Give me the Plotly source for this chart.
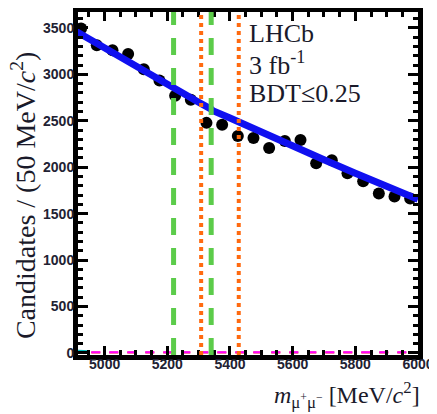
import plotly.graph_objects as go

# Data points (bin centres, 50 MeV bins)
mass_bins = [4925, 4975, 5025, 5075, 5125, 5175, 5225, 5275, 5325, 5375, 5425,
             5475, 5525, 5575, 5625, 5675, 5725, 5775, 5825, 5875, 5925, 5975]
candidates = [3495, 3315, 3260, 3220, 3055, 2935, 2770, 2728, 2478, 2457, 2337,
              2315, 2207, 2283, 2293, 2043, 2076, 1935, 1848, 1717, 1685, 1663]

# Total fit curve
fit_mass = [4900, 5000, 5100, 5200, 5300, 5340, 5345, 5400, 5500, 5600, 5700, 5800, 5900, 6000]
fit_vals = [3480, 3280, 3085, 2890, 2700, 2625, 2610, 2530, 2375, 2225, 2080, 1935, 1795, 1655]

# Small components near zero
comp_mass = [4900, 5200, 5500, 5800, 6000]
comp_magenta = [8, 8, 8, 8, 8]
comp_red = [4, 4, 4, 4, 4]
comp_cyan_mass = [4900, 4950]
comp_cyan = [25, 18]

# Signal windows
b0_window = [5220, 5340]   # green dashed
bs_window = [5308, 5428]   # orange dotted

fig = go.Figure()

fig.add_trace(go.Scatter(x=comp_mass, y=comp_red, mode="lines",
                         line=dict(color="#ff2020", width=2, dash="dash"), showlegend=False))
fig.add_trace(go.Scatter(x=comp_mass, y=comp_magenta, mode="lines",
                         line=dict(color="#ff00ff", width=2, dash="dash"), showlegend=False))
fig.add_trace(go.Scatter(x=comp_cyan_mass, y=comp_cyan, mode="lines",
                         line=dict(color="#00c0c0", width=2), showlegend=False))

for xv in b0_window:
    fig.add_shape(type="line", x0=xv, x1=xv, y0=0, y1=1, yref="paper", xref="x",
                  line=dict(color="#5ccc4a", width=5, dash="17px,13px"), layer="above")
for xv in bs_window:
    fig.add_shape(type="line", x0=xv, x1=xv, y0=0, y1=1, yref="paper", xref="x",
                  line=dict(color="#ff6a10", width=4, dash="dot"), layer="above")

fig.add_trace(go.Scatter(x=mass_bins, y=candidates, mode="markers",
                         marker=dict(color="black", size=12), showlegend=False))
fig.add_trace(go.Scatter(x=fit_mass, y=fit_vals, mode="lines",
                         line=dict(color="#1010f0", width=7), showlegend=False))

tickfont = dict(family="Liberation Sans", size=14, color="#222233", weight="bold")

# page body adds an 8 px offset, so the figure is 8 px smaller on each side
fig.update_layout(
    width=429, height=406,
    margin=dict(l=70, r=19, t=4, b=59),
    plot_bgcolor="white", paper_bgcolor="white",
    showlegend=False,
    xaxis=dict(range=[4915, 6000], tickvals=[5000, 5200, 5400, 5600, 5800, 6000],
               ticks="inside", ticklen=9, tickwidth=3, tickcolor="black",
               minor=dict(dtick=50, tick0=4900, ticks="inside", ticklen=5, tickwidth=3, tickcolor="black"),
               showline=True, linewidth=5, linecolor="black", mirror="allticks",
               showgrid=False, zeroline=False, tickfont=tickfont, automargin=False,
               ticklabelstandoff=-8),
    yaxis=dict(range=[-22, 3672], tickvals=[0, 500, 1000, 1500, 2000, 2500, 3000, 3500],
               ticks="inside", ticklen=10, tickwidth=3, tickcolor="black",
               minor=dict(dtick=100, ticks="inside", ticklen=5, tickwidth=3, tickcolor="black"),
               showline=True, linewidth=5, linecolor="black", mirror="allticks",
               showgrid=False, zeroline=False, tickfont=tickfont, automargin=False,
               ticklabelstandoff=-4),
)

serif = "Liberation Serif"
fig.add_annotation(text="Candidates / (50 MeV/<i>c</i><sup>2</sup>)", textangle=-90,
                   xref="paper", yref="paper", x=-0.162, y=0.466, xanchor="center", yanchor="middle",
                   showarrow=False, font=dict(family=serif, size=28, color="#1a1a2a"))
fig.add_annotation(text="<i>m</i><sub>μ<sup>+</sup>μ<sup>−</sup></sub> [MeV/<i>c</i><sup>2</sup>]",
                   xref="paper", yref="paper", x=1.012, y=-0.117, xanchor="right", yanchor="middle",
                   showarrow=False, font=dict(family=serif, size=24, color="#1a1a2a"))
labels = ["LHCb", "3 fb<sup>-1</sup>", "BDT≤0.25"]
ys = [0.936, 0.849, 0.761]
for lab, yy in zip(labels, ys):
    fig.add_annotation(text=lab, xref="paper", yref="paper", x=0.497, y=yy,
                       xanchor="left", yanchor="middle", showarrow=False,
                       font=dict(family=serif, size=26, color="#1a1a2a"))

fig.write_html("out.html")
